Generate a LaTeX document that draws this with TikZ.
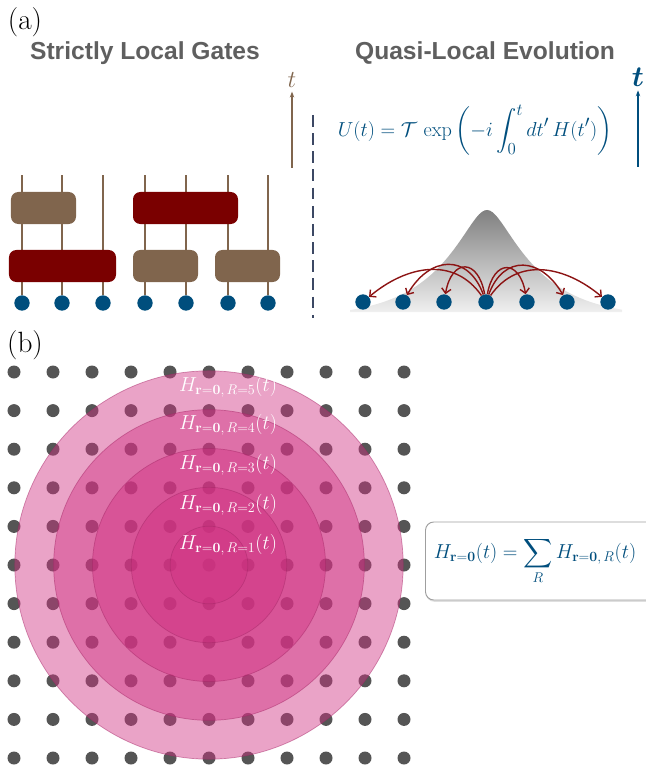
\documentclass[tikz,border=0pt]{standalone}
\usepackage{amsmath}
\usepackage[no-math]{fontspec}
\setsansfont{Liberation Sans}
\usetikzlibrary{arrows.meta, positioning, shadows}

\definecolor{gatebrown}{RGB}{128,101,77}
\definecolor{gatered}{RGB}{122,0,0}
\definecolor{siteblue}{RGB}{0,78,125}
\definecolor{titlegray}{RGB}{95,95,95}
\definecolor{dashnavy}{RGB}{60,72,100}
\definecolor{hopred}{RGB}{140,20,20}
\definecolor{ballpink}{RGB}{208,50,130}
\definecolor{griddot}{RGB}{85,85,85}

\tikzset{
  site/.style={circle, fill=siteblue, inner sep=0pt, minimum size=0.46cm},
  gridsite/.style={circle, fill=griddot, inner sep=0pt, minimum size=0.39cm},
  wire/.style={gatebrown, line width=1.6pt},
  gate/.style={rounded corners=0.22cm, minimum height=0.96cm, inner sep=0pt},
  smallgate/.style={gate, fill=gatebrown, minimum width=1.95cm},
  widegate/.style={gate, fill=gatered, minimum width=3.15cm},
  paneltitle/.style={font=\sffamily\bfseries\fontsize{21}{25}\selectfont, text=titlegray},
  panellabel/.style={font=\fontsize{25}{30}\selectfont},
  hop/.style={-{Straight Barb[length=4pt]}, hopred, line width=1.2pt},
  ball/.style={fill=ballpink, fill opacity=0.45, draw=ballpink!80!black, draw opacity=0.5, line width=0.6pt},
  ballname/.style={text=white, font=\fontsize{18}{21}\selectfont},
  sumbox/.style={draw=gray!75, line width=0.8pt, rounded corners=0.25cm, fill=white, text=siteblue,
    inner xsep=0.2cm, minimum width=7.4cm, minimum height=2.34cm, font=\fontsize{18}{21}\selectfont,
    drop shadow={opacity=0.25, shadow xshift=0.4pt, shadow yshift=-1.5pt}}
}

\begin{document}
\begin{tikzpicture}[x=0.03cm, y=-0.03cm]
\useasboundingbox (0,0) rectangle (645,768);

\node[panellabel] (la) at (25,22) {(a)};
\node[paneltitle] (tgates) at (145,53) {Strictly Local Gates};
\node[paneltitle] (tquasi) at (485,53) {Quasi-Local Evolution};

\foreach \i/\x in {1/22, 2/62, 3/103, 4/145, 5/186, 6/228, 7/268} {
  \node[site] (s\i) at (\x,303) {};
  \coordinate (w\i) at (\x,175);
  \draw[wire] (s\i) -- (w\i);
}
\node[smallgate] (g1) at (43.5,208) {};
\node[widegate] (g2) at (185.5,208) {};
\node[widegate, minimum width=3.21cm] (g3) at (62.5,266) {};
\node[smallgate] (g4) at (165.5,266) {};
\node[smallgate] (g5) at (247.5,266) {};

\node[text=gatebrown, font=\fontsize{20}{24}\selectfont] (tg) at (292,80) {$t$};
\coordinate (tg0) at (292,168);
\draw[-{Stealth[length=5pt]}, gatebrown, line width=1.3pt] (tg0) -- (tg.south);

\coordinate (d0) at (313,115);
\coordinate (d1) at (313,318);
\draw[dashnavy, line width=1.5pt, dash pattern=on 10pt off 5.5pt] (d0) -- (d1);

\node[text=siteblue, font=\fontsize{19}{22}\selectfont] (ueq) at (475,130)
  {$\displaystyle U(t)=\mathcal{T}\,\exp\left(-i\int_0^t dt'\,H(t')\right)$};
\node[text=siteblue, font=\fontsize{24}{28}\selectfont] (tq) at (638,77) {$\boldsymbol{t}$};
\coordinate (tq0) at (638,167);
\draw[-{Stealth[length=5pt]}, siteblue, line width=1.3pt] (tq0) -- (tq.south);

\shade[top color=black!50, bottom color=black!6] (350,312)
  -- plot[domain=350:622, samples=100]
     (\x,{318-108*exp(-(10*sqrt(((\x-487)/10)^2+2.25)-15)/47)}) -- (622,312) -- cycle;

\foreach \i/\x in {l3/363, l2/403, l1/444, c/486, r1/527, r2/567, r3/608}
  \node[site] (q\i) at (\x,302) {};
\draw[hop] (qc) to[out=100, in=80, looseness=2.4] (ql1);
\draw[hop] (qc) to[out=80, in=100, looseness=2.4] (qr1);
\draw[hop] (qc) to[out=110, in=60, looseness=1.5] (ql2);
\draw[hop] (qc) to[out=70, in=120, looseness=1.5] (qr2);
\draw[hop] (qc) to[out=125, in=40, looseness=1.1] (ql3);
\draw[hop] (qc) to[out=55, in=140, looseness=1.1] (qr3);

\node[panellabel] (lb) at (25,345) {(b)};
\foreach \i in {0,...,10}
  \foreach \j in {0,...,10}
    \node[gridsite] (n\i-\j) at ({14+39*\i},{372+38.6*\j}) {};
\foreach \r in {5,4,3,2,1}
  \draw[ball] (n5-5) circle[radius=1.165*\r cm];
\foreach \R/\y in {5/387, 4/425, 3/465, 2/505, 1/545}
  \node[ballname] (h\R) at (228,\y) {$H_{\mathbf{r}=\mathbf{0},\,R=\R}(t)$};

\node[sumbox, anchor=west, align=left, text width=6.9cm] (hsum) at (425,561)
  {$\displaystyle H_{\mathbf{r}=\mathbf{0}}(t)=\sum_R H_{\mathbf{r}=\mathbf{0},\,R}(t)$};
\end{tikzpicture}
\end{document}
